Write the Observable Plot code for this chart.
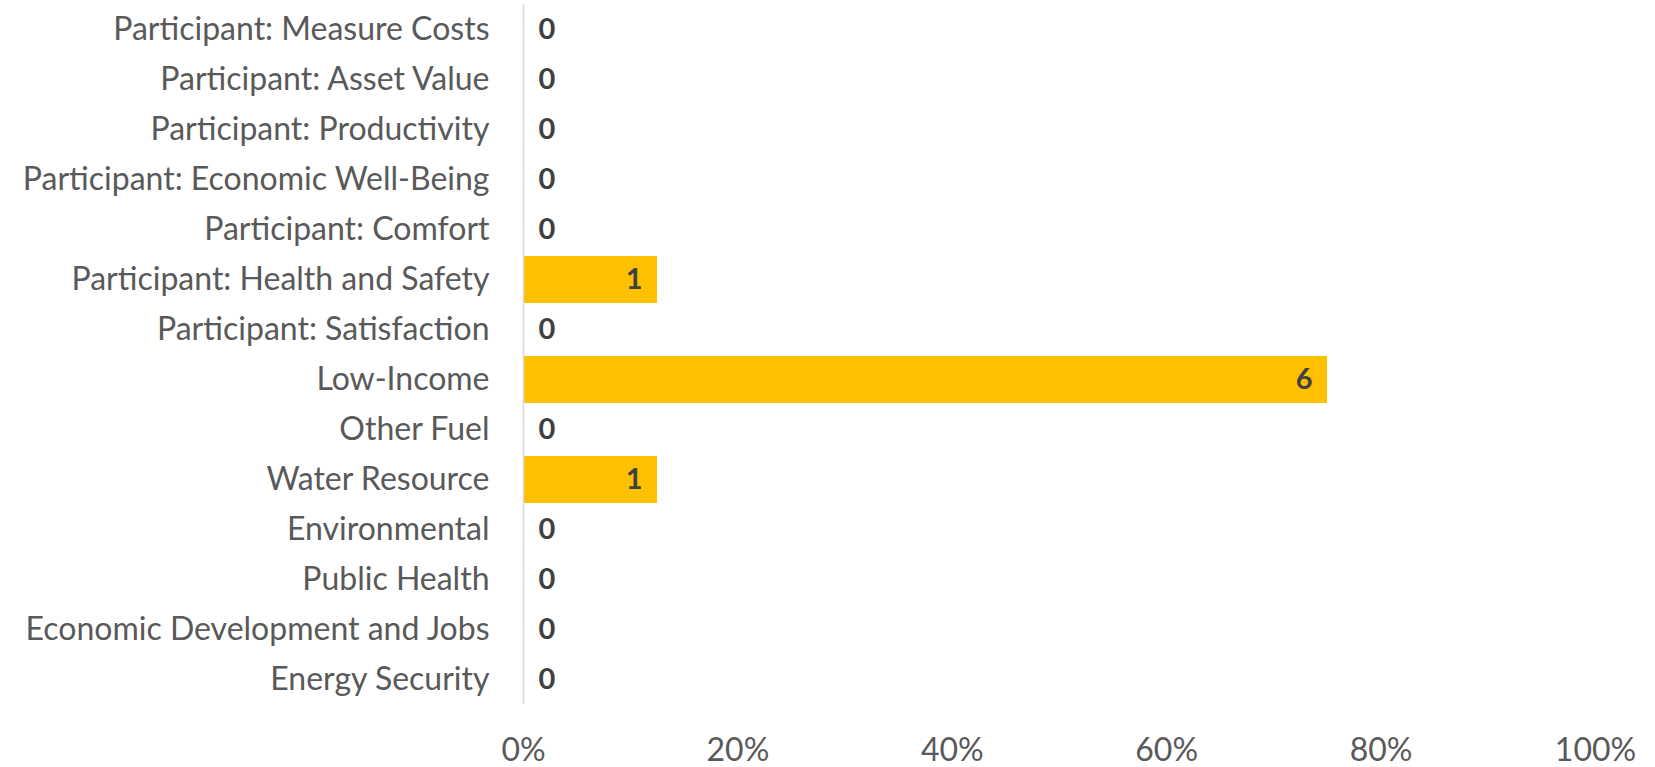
<!DOCTYPE html>
<html>
<head>
<meta charset="utf-8">
<script src="https://cdn.jsdelivr.net/npm/d3@7"></script>
<script src="https://cdn.jsdelivr.net/npm/@observablehq/plot@0.6"></script>
<style>
  html, body { margin: 0; padding: 0; background: #fff; }
  #chart svg { display: block; }
</style>
</head>
<body>
<div id="chart"></div>
<script>
const categories = [
  "Participant: Measure Costs",
  "Participant: Asset Value",
  "Participant: Productivity",
  "Participant: Economic Well-Being",
  "Participant: Comfort",
  "Participant: Health and Safety",
  "Participant: Satisfaction",
  "Low-Income",
  "Other Fuel",
  "Water Resource",
  "Environmental",
  "Public Health",
  "Economic Development and Jobs",
  "Energy Security"
];
const counts = [0, 0, 0, 0, 0, 1, 0, 6, 0, 1, 0, 0, 0, 0];
const shares = [0, 0, 0, 0, 0, 0.125, 0, 0.75, 0, 0.125, 0, 0, 0, 0];
const xTicks = [0, 0.2, 0.4, 0.6, 0.8, 1.0];

const data = categories.map((c, i) => ({category: c, count: counts[i], share: shares[i]}));

const chart = Plot.plot({
  width: 1655,
  height: 767,
  marginLeft: 523,
  marginRight: 60,
  marginTop: 4,
  marginBottom: 63,
  style: {fontFamily: "Lato, 'Open Sans', sans-serif", fontSize: "32px", color: "#595959", background: "#fff"},
  x: {domain: [0, 1], axis: null, label: null},
  y: {domain: categories, paddingInner: 0.06, paddingOuter: 0.03, axis: null, label: null},
  marks: [
    Plot.barX(data, {x: "share", y: "category", fill: "#FFC000"}),
    Plot.ruleX([0], {stroke: "#d9d9d9", strokeWidth: 1.5}),
    Plot.axisY({tickSize: 0, tickPadding: 34, fill: "#595959", fontSize: 32, label: null}),
    Plot.axisX({ticks: xTicks, tickFormat: d3.format(".0%"), tickSize: 0, tickPadding: 34, fill: "#595959", fontSize: 32, label: null}),
    Plot.text(data.filter(d => d.share === 0), {x: "share", y: "category", text: d => String(d.count), textAnchor: "start", dx: 15, fill: "#404040", fontWeight: "bold", fontSize: 29}),
    Plot.text(data.filter(d => d.share > 0), {x: "share", y: "category", text: d => String(d.count), textAnchor: "end", dx: -15, fill: "#404040", fontWeight: "bold", fontSize: 29})
  ]
});
document.getElementById("chart").appendChild(chart);
</script>
</body>
</html>
